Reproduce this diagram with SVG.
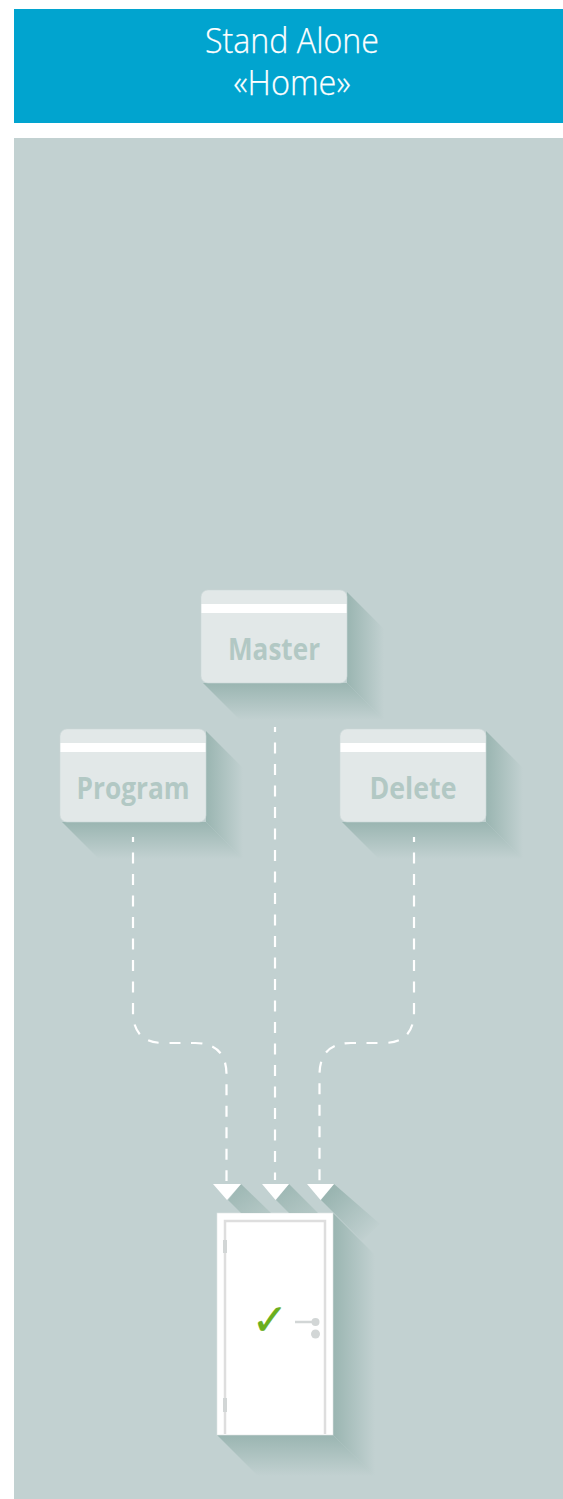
<svg xmlns="http://www.w3.org/2000/svg" width="563" height="1499" viewBox="0 0 563 1499">
<style>
.title{font-family:"Open Sans","Liberation Sans",sans-serif;font-size:34px;font-weight:300;fill:#fff;stroke:#fff;stroke-width:.25;text-anchor:middle}
.lbl{font-family:"Open Sans","Liberation Sans",sans-serif;font-size:30px;font-weight:700;fill:#b2c8c4;text-anchor:middle}
.card{fill:#e2e8e8;stroke:#ccd8d8;stroke-width:.6}
.strip{fill:#fff}
.dash{fill:none;stroke:#fff;stroke-width:2.200;stroke-dasharray:11 10.500}
.tri{fill:#fff}
.frame{fill:none;stroke:#dedede;stroke-width:2.500}
.fit{fill:#d2d6d6}
</style>
<defs>
<linearGradient id="sr" x1="0" y1="0" x2="1" y2="0"><stop offset="0" stop-color="#9ab5b1"/><stop offset="1" stop-color="#c2d1d1"/></linearGradient>
<linearGradient id="sb" x1="0" y1="0" x2="0" y2="1"><stop offset="0" stop-color="#9ab5b1"/><stop offset="1" stop-color="#c2d1d1"/></linearGradient>
<linearGradient id="sd" x1="0" y1="0" x2="1" y2="1"><stop offset="0" stop-color="#9ab5b1"/><stop offset="1" stop-color="#b5c8c6"/></linearGradient>
<linearGradient id="st" gradientUnits="userSpaceOnUse" x1="331" y1="1192" x2="373" y2="1234"><stop offset="0" stop-color="#9ab5b1"/><stop offset="1" stop-color="#c2d1d1"/></linearGradient>
<g id="c"><polygon points="146,2 183,39 183,130 146,93" fill="url(#sr)"/><polygon points="2,93 146,93 183,130 39,130" fill="url(#sb)"/><rect x="0" y="0" width="146" height="93" rx="7" class="card"/><rect x="0.500" y="14" width="145" height="9" class="strip"/></g>
</defs>
<rect x="14" y="9" width="549" height="114" fill="#01a4cf"/>
<text class="title" x="292" y="53" textLength="174" lengthAdjust="spacingAndGlyphs">Stand Alone</text>
<text class="title" x="292" y="95" textLength="117" lengthAdjust="spacingAndGlyphs">«Home»</text>
<rect x="14" y="138" width="549" height="1361" fill="#c2d1d1"/>
<g id="node-master"><use href="#c" x="201" y="590"/><text class="lbl" x="274" y="659.500" textLength="92" lengthAdjust="spacingAndGlyphs">Master</text></g>
<g id="node-program"><use href="#c" x="60" y="729"/><text class="lbl" x="133" y="798.500" textLength="113" lengthAdjust="spacingAndGlyphs">Program</text></g>
<g id="node-delete"><use href="#c" x="340" y="729"/><text class="lbl" x="413" y="798.500" textLength="87" lengthAdjust="spacingAndGlyphs">Delete</text></g>
<g id="node-door">
<polygon points="333,1213 375,1255 375,1476 333,1435" fill="url(#sr)"/>
<polygon points="217,1435 333,1435 375,1476 258,1476" fill="url(#sb)"/>
<rect x="217" y="1213" width="116" height="222" fill="#fff" stroke="#dfe5e5" stroke-width=".6"/>
<path class="frame" d="M225 1434V1221H325V1434"/>
<rect x="223" y="1240" width="4" height="13" class="fit"/>
<rect x="223" y="1398" width="4" height="14" class="fit"/>
<path d="M295 1322H315" stroke="#d2d6d6" stroke-width="2.500" fill="none"/>
<circle cx="315.500" cy="1322" r="4" class="fit"/>
<circle cx="315.500" cy="1334" r="4.500" class="fit"/>
<text x="270" y="1335" font-family="DejaVu Sans" font-size="44" fill="#6aaf1e" stroke="#6aaf1e" stroke-width=".3" text-anchor="middle">✓</text>
</g>
<g id="connectors">
<path class="dash" stroke-dashoffset="6" d="M275 727V1180"/>
<path class="dash" stroke-dashoffset="6" d="M133 837V1012Q133 1043 164 1043H195Q226 1043 226.500 1074V1181"/>
<path class="dash" stroke-dashoffset="6" d="M414 837V1012Q414 1043 383 1043H351Q320 1043 319.500 1074V1181"/>
<polygon points="241,1184 228,1200 241,1213 271,1213" fill="url(#sd)"/>
<polygon points="289,1184 276,1200 289,1213 318,1213" fill="url(#sd)"/>
<polygon points="334,1184 321,1200 362,1241 380,1224" fill="url(#st)"/>
<polygon class="tri" points="213,1184 241,1184 227,1200"/>
<polygon class="tri" points="262,1184 289,1184 275.500,1200"/>
<polygon class="tri" points="307,1184 334,1184 320.500,1200"/>
</g>
</svg>
